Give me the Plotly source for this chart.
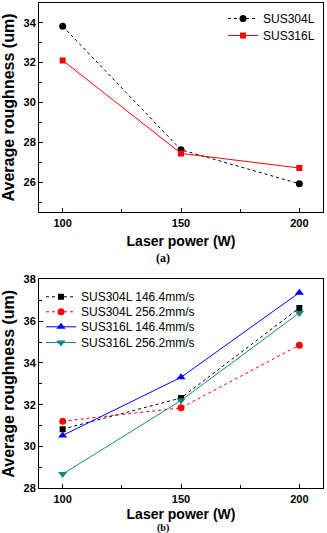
import plotly.graph_objects as go

# ---------------- data ----------------
power = [100, 150, 200]

# (a)
a_304 = [33.82, 27.63, 25.93]
a_316 = [32.11, 27.45, 26.72]

# (b)
b_304_146 = [30.83, 32.32, 36.63]
b_304_256 = [31.21, 31.85, 34.85]
b_316_146 = [30.53, 33.31, 37.36]
b_316_256 = [28.68, 32.20, 36.39]

names_a = ["SUS304L", "SUS316L"]
names_b = ["SUS304L 146.4mm/s", "SUS304L 256.2mm/s", "SUS316L 146.4mm/s", "SUS316L 256.2mm/s"]

W, H = 327, 533
TICKFONT = dict(family="Liberation Sans, Arial", size=11, color="black", weight="bold")
XTITLEFONT = dict(family="Liberation Sans, Arial", size=14, color="black", weight="bold")
YTITLEFONT = dict(family="Liberation Sans, Arial", size=16, color="black", weight="bold")
LEGFONT = dict(family="Liberation Sans, Arial", size=12, color="black")

fig = go.Figure()

# (a) traces
fig.add_trace(go.Scatter(x=power, y=a_304, name=names_a[0], mode="lines+markers",
                         line=dict(color="black", width=1, dash="dot"),
                         marker=dict(symbol="circle", size=7, color="black"),
                         xaxis="x", yaxis="y", legend="legend"))
fig.add_trace(go.Scatter(x=power, y=a_316, name=names_a[1], mode="lines+markers",
                         line=dict(color="#ff0000", width=1),
                         marker=dict(symbol="square", size=6, color="#ff0000"),
                         xaxis="x", yaxis="y", legend="legend2"))

# (b) traces
fig.add_trace(go.Scatter(x=power, y=b_304_146, name=names_b[0], mode="lines+markers",
                         line=dict(color="black", width=1, dash="dot"),
                         marker=dict(symbol="square", size=6, color="black"),
                         xaxis="x2", yaxis="y2", legend="legend3"))
fig.add_trace(go.Scatter(x=power, y=b_304_256, name=names_b[1], mode="lines+markers",
                         line=dict(color="#ff0000", width=1, dash="dot"),
                         marker=dict(symbol="circle", size=7, color="#ff0000"),
                         xaxis="x2", yaxis="y2", legend="legend4"))
fig.add_trace(go.Scatter(x=power, y=b_316_146, name=names_b[2], mode="lines+markers",
                         line=dict(color="#0000ff", width=1),
                         marker=dict(symbol="triangle-up", size=8, color="#0000ff"),
                         xaxis="x2", yaxis="y2", legend="legend5"))
fig.add_trace(go.Scatter(x=power, y=b_316_256, name=names_b[3], mode="lines+markers",
                         line=dict(color="#13877f", width=1),
                         marker=dict(symbol="triangle-down", size=8, color="#13877f"),
                         xaxis="x2", yaxis="y2", legend="legend6"))

xdom = [39 / W, 323 / W]
ydom_a = [1 - 212.3 / H, 1 - 2.7 / H]
ydom_b = [1 - 488.3 / H, 1 - 279.3 / H]

def xaxis(domain_anchor, standoff):
    return dict(domain=xdom, anchor=domain_anchor, range=[90, 210], tickmode="linear", tick0=100, dtick=50,
                ticks="inside", ticklen=4, tickwidth=1, tickcolor="black",
                minor=dict(ticks="inside", dtick=25, tick0=100, ticklen=3, tickwidth=1, tickcolor="black"),
                showline=True, linecolor="black", linewidth=1, mirror=True,
                showgrid=False, zeroline=False, tickfont=TICKFONT,
                title=dict(text="Laser power (W)", font=XTITLEFONT, standoff=standoff),
                automargin=False)

def yaxis(domain, rng, tick0, anchor):
    return dict(domain=domain, anchor=anchor, range=rng, tickmode="linear", tick0=tick0, dtick=2,
                ticks="inside", ticklen=4, tickwidth=1, tickcolor="black",
                minor=dict(ticks="inside", dtick=1, tick0=tick0, ticklen=3, tickwidth=1, tickcolor="black"),
                showline=True, linecolor="black", linewidth=1, mirror=True,
                showgrid=False, zeroline=False, tickfont=TICKFONT,
                title=dict(text="Average roughness (um)", font=YTITLEFONT, standoff=5),
                automargin=False)

def leg(x_px, center_px):
    return dict(x=x_px / W, y=1 - (center_px - 11) / H, xanchor="left", yanchor="top",
                bgcolor="rgba(0,0,0,0)", font=LEGFONT, itemwidth=30)

fig.update_layout(
    width=W, height=H,
    margin=dict(l=0, r=0, t=0, b=0),
    paper_bgcolor="white", plot_bgcolor="white",
    xaxis=xaxis("y", 8),
    yaxis=yaxis(ydom_a, [24.5, 35.0], 26, "x"),
    xaxis2=xaxis("y2", 5),
    yaxis2=yaxis(ydom_b, [28, 38], 28, "x2"),
    legend=leg(223, 15),
    legend2=leg(223, 32),
    legend3=leg(41, 293.3),
    legend4=leg(41, 308.3),
    legend5=leg(41, 323.3),
    legend6=leg(41, 339),
    showlegend=True,
    annotations=[
        dict(text="(a)", x=163 / W, y=1 - 258 / H, xref="paper", yref="paper", showarrow=False,
             xanchor="center", yanchor="middle",
             font=dict(family="Liberation Serif, Times New Roman", size=12, color="black", weight="bold")),
        dict(text="(b)", x=163 / W, y=1 - 528 / H, xref="paper", yref="paper", showarrow=False,
             xanchor="center", yanchor="middle",
             font=dict(family="Liberation Serif, Times New Roman", size=10, color="black", weight="bold")),
    ],
)

fig.write_html("out.html")
